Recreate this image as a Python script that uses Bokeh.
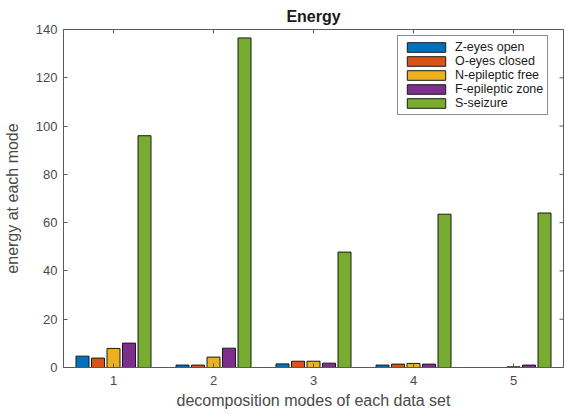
from bokeh.plotting import figure
from bokeh.models import FixedTicker, Legend, LegendItem, ColumnDataSource, Range1d
from bokeh.embed import file_html
from bokeh.resources import INLINE

modes = [1, 2, 3, 4, 5]
z_eyes_open = [4.7, 1.0, 1.5, 1.0, 0.0]
o_eyes_closed = [3.9, 1.0, 2.6, 1.4, 0.0]
n_epileptic_free = [7.9, 4.3, 2.6, 1.7, 0.3]
f_epileptic_zone = [10.1, 8.0, 1.8, 1.4, 1.0]
s_seizure = [96.0, 136.5, 47.8, 63.5, 64.0]
series_names = ["Z-eyes open", "O-eyes closed", "N-epileptic free", "F-epileptic zone", "S-seizure"]
y_ticks = [0, 20, 40, 60, 80, 100, 120, 140]

colors = ["#0072BD", "#D95319", "#EDB120", "#7E2F8E", "#77AC30"]
offsets = [-0.31, -0.155, 0.0, 0.155, 0.31]
FONT = "Liberation Sans"
AX = "#5a5a5a"
TXT = "#4a4a4a"
X0, X1, Y0, Y1 = 0.5, 5.5, 0, 140

p = figure(width=566, height=414, output_backend="svg", toolbar_location=None,
           x_range=Range1d(X0, X1), y_range=Range1d(Y0, Y1),
           min_border_left=63, min_border_right=3, min_border_top=29, min_border_bottom=47,
           title="Energy")
p.title.align = "center"
p.title.text_font = FONT
p.title.text_font_size = "16px"
p.title.text_font_style = "bold"
p.title.text_color = "#1a1a1a"

p.xgrid.visible = False
p.ygrid.visible = False
p.outline_line_color = AX
p.background_fill_color = "white"
p.border_fill_color = "white"

all_series = [z_eyes_open, o_eyes_closed, n_epileptic_free, f_epileptic_zone, s_seizure]
items = []
for name, vals, col, off in zip(series_names, all_series, colors, offsets):
    src = ColumnDataSource(dict(x=[m + off for m in modes], top=vals))
    r = p.vbar(x="x", top="top", width=0.13, bottom=0, source=src,
               fill_color=col, line_color="#1a1a1a", line_width=1)
    items.append(LegendItem(label=name, renderers=[r]))

# inward ticks on the top and right edges of the box (MATLAB "box on")
ty = (Y1 - Y0) * 4 / 338
tx = (X1 - X0) * 4 / 500
p.segment(x0=modes, y0=[Y1] * len(modes), x1=modes, y1=[Y1 - ty] * len(modes),
          line_color=AX, line_width=1)
p.segment(x0=[X1] * len(y_ticks), y0=y_ticks, x1=[X1 - tx] * len(y_ticks), y1=y_ticks,
          line_color=AX, line_width=1)

for ax in (p.xaxis[0], p.yaxis[0]):
    ax.axis_line_color = AX
    ax.major_tick_line_color = AX
    ax.major_tick_in = 4
    ax.major_tick_out = 0
    ax.minor_tick_line_color = None
    ax.major_label_text_font = FONT
    ax.major_label_text_font_size = "13px"
    ax.major_label_text_color = TXT
    ax.axis_label_text_font = FONT
    ax.axis_label_text_font_size = "16px"
    ax.axis_label_text_font_style = "normal"
    ax.axis_label_text_color = TXT

p.xaxis.ticker = FixedTicker(ticks=modes)
p.yaxis.ticker = FixedTicker(ticks=y_ticks)
p.xaxis.axis_label = "decomposition modes of each data set"
p.yaxis.axis_label = "energy at each mode"
p.xaxis.major_label_standoff = 8
p.yaxis.major_label_standoff = 6
p.xaxis.axis_label_standoff = 4
p.yaxis.axis_label_standoff = 12

legend = Legend(items=items, location=(334, 252), orientation="vertical")
legend.border_line_color = "#1a1a1a"
legend.border_line_width = 1
legend.background_fill_alpha = 1
legend.label_text_font = FONT
legend.label_text_font_size = "12.5px"
legend.label_text_color = "#1a1a1a"
legend.glyph_width = 48
legend.glyph_height = 12
legend.label_height = 12
legend.label_standoff = 5
legend.spacing = 0
legend.padding = 4
legend.margin = 0
p.add_layout(legend, "center")

open("out.html", "w").write(file_html(p, INLINE))
